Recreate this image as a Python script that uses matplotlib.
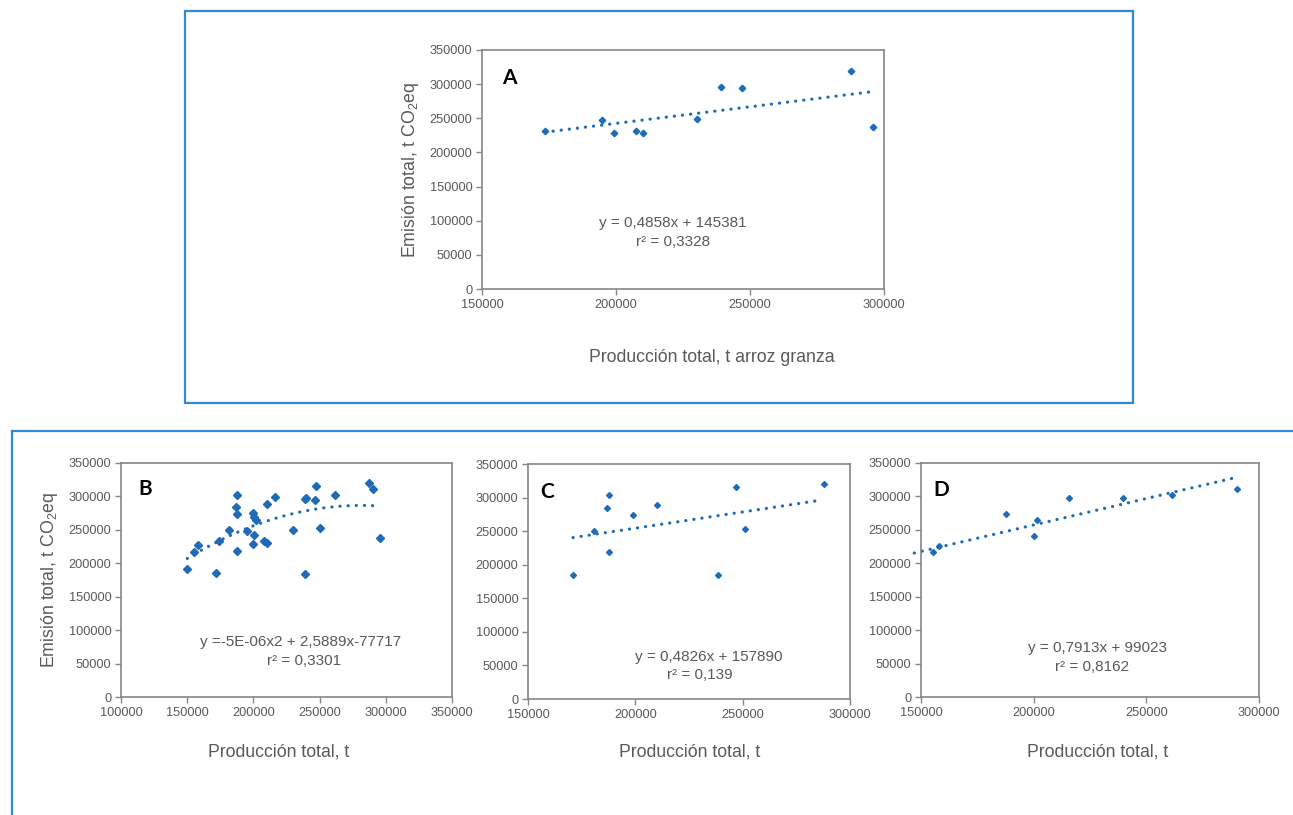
import numpy as np
import matplotlib.pyplot as plt
from matplotlib.patches import Rectangle
from matplotlib.lines import Line2D

plt.rcParams['font.family'] = ['Liberation Sans', 'DejaVu Sans']
plt.rcParams['mathtext.fontset'] = 'custom'
plt.rcParams['mathtext.rm'] = 'Liberation Sans'

# ---- data ----
# A: all years, production vs emission
a_x = [173500, 194650, 199400, 207600, 210100, 230200, 239000, 246900, 287700, 296000]
a_y = [231800, 247000, 228000, 231300, 228900, 248400, 295300, 293800, 319200, 236700]
a_coef = [0.4858, 145381]

# B: all data pooled
b_x = [150050, 155080, 158350, 171430, 173940, 181240, 187780, 187020, 187780, 187780,
       195070, 199350, 200600, 201860, 200600, 199600, 207900, 209900, 210400, 216450,
       230280, 238830, 239340, 240000, 247130, 246880, 250650, 261720, 287370, 290400,
       295930]
b_y = [191400, 216300, 226700, 186000, 233200, 249100, 302800, 284900, 273500, 218800,
       247600, 275500, 269500, 264000, 242200, 228700, 233200, 229700, 288400, 298400,
       249100, 184500, 295900, 298000, 315800, 294400, 253100, 302800, 320200, 310800,
       237200]
b_coef = [-4.6e-06, 2.5889, -77717]

# C
c_x = [170960, 180900, 186650, 187580, 187580, 199070, 210250, 238670, 247050, 250930, 287890]
c_y = [185400, 249600, 284400, 303300, 218800, 274400, 288400, 184400, 316200, 252600, 320200]
c_coef = [0.4826, 157890]

# D
d_x = [155190, 158000, 187500, 200250, 201430, 215810, 239530, 261470, 290220]
d_y = [216400, 226400, 273200, 241300, 264200, 297700, 297200, 302100, 311100]
d_coef = [0.7913, 99023]
d_trend_range = [147000, 288000]

blue = '#1F6BB5'
grey = '#595959'
axis_grey = '#868686'
box_blue = '#3189D6'

W, H = 1293, 815
fig = plt.figure(figsize=(W / 100, H / 100), dpi=100)


def px_axes(l, t, r, b):
    return fig.add_axes([l / W, 1 - b / H, (r - l) / W, (b - t) / H])


def style(ax, xlim, xticks):
    ax.set_xlim(xlim)
    ax.set_ylim(0, 350000)
    ax.set_xticks(xticks)
    ax.set_yticks(range(0, 350001, 50000))
    ax.tick_params(colors=grey, labelsize=9.2, length=4, width=1, color=axis_grey,
                   direction='out', pad=3)
    for s in ax.spines.values():
        s.set_color(axis_grey)
        s.set_linewidth(1.2)


def trend(ax, xs, coef, lw=2.3):
    xx = np.linspace(xs[0], xs[1], 200)
    yy = np.polyval(coef, xx)
    ax.plot(xx, yy, color=blue, lw=lw, linestyle=(0, (0.05, 2.5)),
            dash_capstyle='round', clip_on=False, zorder=2)


def eqtext(ax, xy1, t1, xy2, t2, size=11):
    fig.text(xy1[0] / W, 1 - xy1[1] / H, t1, ha='center', va='center', color=grey, fontsize=size)
    fig.text(xy2[0] / W, 1 - xy2[1] / H, t2, ha='center', va='center', color=grey, fontsize=size)


def letter(xy, s):
    fig.text(xy[0] / W, 1 - xy[1] / H, s, ha='center', va='center', color='black',
             fontsize=15, fontweight='bold', family=['Lato', 'DejaVu Sans'])


ylab = 'Emisión total, t CO$_2$eq'

# ---- panel A ----
axA = px_axes(482, 50, 884, 289)
style(axA, (150000, 300000), [150000, 200000, 250000, 300000])
trend(axA, [min(a_x), max(a_x)], a_coef)
axA.plot(a_x, a_y, 'D', color=blue, ms=3.3, zorder=3)
axA.set_ylabel(ylab, color=grey, fontsize=12.8, labelpad=6)
fig.text(712 / W, 1 - 357 / H, 'Producción total, t arroz granza', ha='center', va='center',
         color=grey, fontsize=12.7)
eqtext(axA, (673, 223), 'y = 0,4858x + 145381', (673, 242), 'r² = 0,3328')
letter((509, 78), 'A')

# ---- panel B ----
axB = px_axes(121, 463, 452, 697)
style(axB, (100000, 350000), [100000, 150000, 200000, 250000, 300000, 350000])
trend(axB, [min(b_x), max(b_x)], b_coef)
axB.plot(b_x, b_y, 'D', color=blue, ms=4.2, zorder=3)
axB.set_ylabel(ylab, color=grey, fontsize=12.8, labelpad=6)
fig.text(279 / W, 1 - 752 / H, 'Producción total, t', ha='center', va='center',
         color=grey, fontsize=12.7)
eqtext(axB, (301, 642), 'y =-5E-06x2 + 2,5889x-77717', (304, 661), 'r² = 0,3301')
letter((145, 489), 'B')

# ---- panel C ----
axC = px_axes(528, 464, 850, 699)
style(axC, (150000, 300000), [150000, 200000, 250000, 300000])
trend(axC, [min(c_x), max(c_x) - 2000], c_coef)
axC.plot(c_x, c_y, 'D', color=blue, ms=3.0, zorder=3)
fig.text(690 / W, 1 - 752 / H, 'Producción total, t', ha='center', va='center',
         color=grey, fontsize=12.7)
eqtext(axC, (709, 657), 'y = 0,4826x + 157890', (700, 675), 'r² = 0,139')
letter((547, 492), 'C')

# ---- panel D ----
axD = px_axes(921, 463, 1259, 697)
style(axD, (150000, 300000), [150000, 200000, 250000, 300000])
trend(axD, d_trend_range, d_coef)
axD.plot(d_x, d_y, 'D', color=blue, ms=3.0, zorder=3)
fig.text(1098 / W, 1 - 752 / H, 'Producción total, t', ha='center', va='center',
         color=grey, fontsize=12.7)
eqtext(axD, (1098, 648), 'y = 0,7913x + 99023', (1092, 667), 'r² = 0,8162')
letter((941, 490), 'D')

# ---- surrounding boxes ----
fig.patches.append(Rectangle((185 / W, 1 - 403 / H), (1133 - 185) / W, (403 - 11) / H,
                             transform=fig.transFigure, fill=False, ec=box_blue, lw=1.6))
fig.lines.append(Line2D([12 / W, 1], [1 - 431 / H, 1 - 431 / H], transform=fig.transFigure,
                        color=box_blue, lw=1.6))
fig.lines.append(Line2D([12 / W, 12 / W], [1 - 431 / H, 0], transform=fig.transFigure,
                        color=box_blue, lw=1.6))

fig.savefig('out.png', dpi=100)
